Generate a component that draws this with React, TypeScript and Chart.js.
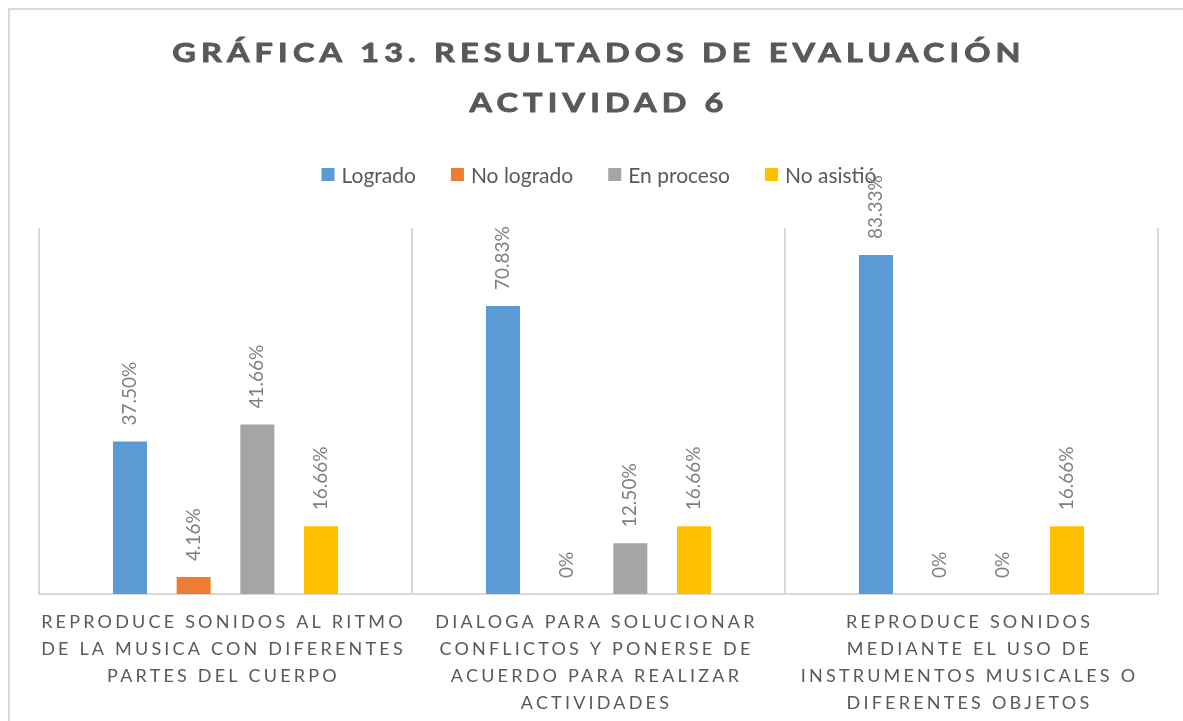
import React, { useEffect, useRef } from 'react';
import { Chart, registerables } from 'chart.js';

Chart.register(...registerables);

const categories: string[][] = [
  ['REPRODUCE SONIDOS AL RITMO', 'DE LA MUSICA CON DIFERENTES', 'PARTES DEL CUERPO'],
  ['DIALOGA PARA SOLUCIONAR', 'CONFLICTOS Y PONERSE DE', 'ACUERDO PARA REALIZAR', 'ACTIVIDADES'],
  ['REPRODUCE SONIDOS', 'MEDIANTE EL USO DE', 'INSTRUMENTOS MUSICALES O', 'DIFERENTES OBJETOS'],
];
const seriesNames = ['Logrado', 'No logrado', 'En proceso', 'No asistió'];
const logrado = [37.5, 70.83, 83.33];
const noLogrado = [4.16, 0, 0];
const enProceso = [41.66, 12.5, 0];
const noAsistio = [16.66, 16.66, 16.66];
const seriesColors = ['#5B9BD5', '#ED7D31', '#A5A5A5', '#FFC000'];
const titleLines = ['GRÁFICA 13. RESULTADOS DE EVALUACIÓN', 'ACTIVIDAD 6'];

const FONT = 'Lato, "Open Sans", sans-serif';
const TITLE_FONT = 'Lato, "Open Sans", sans-serif';
const TEXT_DARK = '#595959';
const LABEL_GRAY = '#7f7f7f';
const LINE_GRAY = '#d9d9d9';

const fmt = (v: number) => (v === 0 ? '0%' : v.toFixed(2) + '%');

const decorPlugin = {
  id: 'decor',
  beforeDraw(chart: any) {
    const ctx: CanvasRenderingContext2D = chart.ctx;
    ctx.save();
    ctx.fillStyle = '#ffffff';
    ctx.fillRect(0, 0, chart.width, chart.height);
    ctx.strokeStyle = LINE_GRAY;
    ctx.lineWidth = 2;
    ctx.strokeRect(9, 9, chart.width + 40, chart.height + 40);

    // title (widened glyphs, expanded spacing)
    ctx.fillStyle = TEXT_DARK;
    ctx.strokeStyle = TEXT_DARK;
    ctx.lineWidth = 0.9;
    ctx.lineJoin = 'round';
    ctx.font = `bold 27px ${TITLE_FONT}`;
    (ctx as any).letterSpacing = '4.3px';
    ctx.textAlign = 'center';
    ctx.textBaseline = 'alphabetic';
    const sx = 1.2;
    titleLines.forEach((t, i) => {
      ctx.save();
      ctx.translate(597 + 2, 62 + i * 50);
      ctx.scale(sx, 1);
      ctx.fillText(t, 0, 0);
      ctx.strokeText(t, 0, 0);
      ctx.restore();
    });

    // legend
    (ctx as any).letterSpacing = '0px';
    ctx.font = `21px ${FONT}`;
    ctx.textAlign = 'left';
    const box = 13;
    const gapBoxText = 7;
    const gapItems = 35;
    const widths = chart.data.datasets.map(
      (ds: any) => box + gapBoxText + ctx.measureText(ds.label).width
    );
    const total = widths.reduce((a: number, b: number) => a + b, 0) + gapItems * (widths.length - 1);
    let x = 599 - total / 2;
    chart.data.datasets.forEach((ds: any, i: number) => {
      ctx.fillStyle = ds.backgroundColor;
      ctx.fillRect(x, 168, box, box);
      ctx.fillStyle = TEXT_DARK;
      ctx.fillText(ds.label, x + box + gapBoxText, 183);
      x += widths[i] + gapItems;
    });
    ctx.restore();
  },
  afterDatasetsDraw(chart: any) {
    const ctx: CanvasRenderingContext2D = chart.ctx;
    ctx.save();
    ctx.font = `19px ${FONT}`;
    ctx.fillStyle = LABEL_GRAY;
    chart.data.datasets.forEach((ds: any, di: number) => {
      const meta = chart.getDatasetMeta(di);
      meta.data.forEach((bar: any, i: number) => {
        const v = ds.data[i] as number;
        ctx.save();
        ctx.translate(bar.x, bar.y - 16);
        ctx.rotate(-Math.PI / 2);
        ctx.textAlign = 'left';
        ctx.textBaseline = 'middle';
        ctx.fillText(fmt(v), 0, 0);
        ctx.restore();
      });
    });
    ctx.restore();
  },
  afterDraw(chart: any) {
    const ctx: CanvasRenderingContext2D = chart.ctx;
    const xs = chart.scales.x;
    ctx.save();
    ctx.font = `18px ${FONT}`;
    (ctx as any).letterSpacing = '3.2px';
    ctx.fillStyle = TEXT_DARK;
    ctx.textAlign = 'center';
    ctx.textBaseline = 'alphabetic';
    categories.forEach((lines, i) => {
      const cx = xs.getPixelForValue(i);
      lines.forEach((ln, j) => ctx.fillText(ln, cx - 2, 628 + j * 27));
    });
    ctx.restore();
  },
};

export default function App() {
  const ref = useRef<HTMLCanvasElement | null>(null);
  useEffect(() => {
    if (!ref.current) return;
    const values = [logrado, noLogrado, enProceso, noAsistio];
    const chart = new Chart(ref.current, {
      type: 'bar',
      data: {
        labels: categories.map((c) => c.join(' ')),
        datasets: seriesNames.map((name, i) => ({
          label: name,
          data: values[i],
          backgroundColor: seriesColors[i],
          barPercentage: 0.534,
          categoryPercentage: 0.683,
        })),
      },
      options: {
        animation: false,
        responsive: true,
        maintainAspectRatio: false,
        layout: { padding: { left: 39, right: 25, top: 228, bottom: 127 } },
        plugins: {
          legend: { display: false },
          title: { display: false },
          tooltip: { enabled: false },
        },
        scales: {
          x: {
            offset: true,
            grid: { display: true, color: LINE_GRAY, lineWidth: 2, drawTicks: false, offset: true },
            border: { display: true, color: LINE_GRAY, width: 2 },
            ticks: { display: false },
          },
          y: { display: false, min: 0, max: 90 },
        },
      },
      plugins: [decorPlugin],
    });
    return () => chart.destroy();
  }, []);
  return (
    <div style={{ position: 'fixed', left: 0, top: 0, width: 1183, height: 721, background: '#fff' }}>
      <canvas ref={ref} />
    </div>
  );
}
